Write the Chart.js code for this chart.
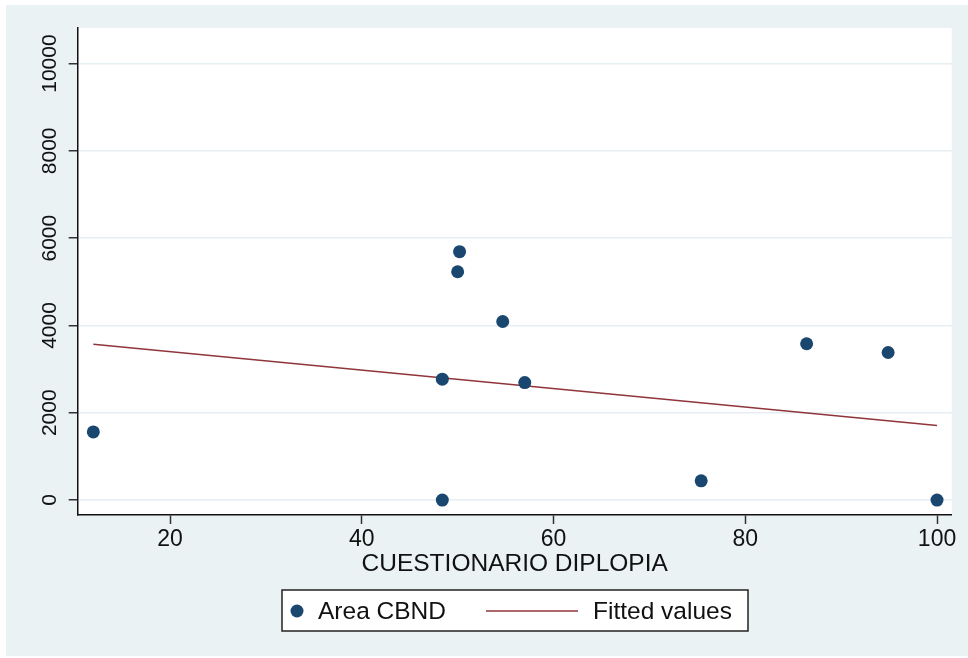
<!DOCTYPE html>
<html>
<head>
<meta charset="utf-8">
<script src="https://cdn.jsdelivr.net/npm/chart.js@4/dist/chart.umd.min.js"></script>
<style>
  body { margin: 0; background: #ffffff; }
  #wrap { width: 968px; height: 658px; }
</style>
</head>
<body>
<div id="wrap"><canvas id="myChart" width="968" height="658"></canvas></div>
<script>
// values
const diplopiaScores = [12, 48.4, 48.4, 50, 50.2, 54.7, 57, 75.4, 86.4, 94.9, 100];
const areaCBND = [1560, 0, 2770, 5230, 5690, 4090, 2690, 440, 3580, 3380, 0];
const fittedX = [12, 100];
const fittedY = [3570, 1706];
const xTicks = [20, 40, 60, 80, 100];
const yTicks = [0, 2000, 4000, 6000, 8000, 10000];

const navy = '#1a476f';
const maroon = '#90353b';
const panelBg = '#eaf2f3';
const fontFamily = '"Liberation Sans", Arial, Helvetica, sans-serif';

let scatterPoints = [];
for (let i = 0; i < diplopiaScores.length; i++) {
    scatterPoints.push({x: diplopiaScores[i], y: areaCBND[i]});
}
let fittedPoints = [];
for (let i = 0; i < fittedX.length; i++) {
    fittedPoints.push({x: fittedX[i], y: fittedY[i]});
}

// stata-like panels: bluish graph region, white plot region
const backgroundPlugin = {
    id: 'backgroundPlugin',
    beforeDraw(chart) {
        const c = chart.ctx;
        const area = chart.chartArea;
        c.save();
        c.fillStyle = '#ffffff';
        c.fillRect(0, 0, chart.width, chart.height);
        c.fillStyle = panelBg;
        c.fillRect(6, 5, chart.width - 6, 651);
        c.fillStyle = '#ffffff';
        c.fillRect(area.left, area.top, area.right - area.left, area.bottom - area.top);
        c.restore();
    }
};

// boxed legend under the axis title
const boxLegendPlugin = {
    id: 'boxLegendPlugin',
    afterDraw(chart) {
        const c = chart.ctx;
        const sets = chart.data.datasets;
        const midY = 611;
        c.save();
        c.fillStyle = '#ffffff';
        c.fillRect(282, 590, 466, 41);
        c.strokeStyle = '#222222';
        c.lineWidth = 1.5;
        c.strokeRect(282, 590, 466, 41);

        c.fillStyle = sets[0].backgroundColor;
        c.beginPath();
        c.arc(297, midY, 6.5, 0, Math.PI * 2);
        c.fill();

        c.strokeStyle = sets[1].borderColor;
        c.lineWidth = 1.6;
        c.beginPath();
        c.moveTo(486, midY);
        c.lineTo(578, midY);
        c.stroke();

        c.fillStyle = '#111111';
        c.font = '24.5px ' + fontFamily;
        c.textBaseline = 'middle';
        c.textAlign = 'left';
        c.fillText(sets[0].label, 318, midY + 1);
        c.fillText(sets[1].label, 593, midY + 1);
        c.restore();
    }
};

const ctx = document.getElementById('myChart').getContext('2d');

const myChart = new Chart(ctx, {
    type: 'scatter',
    data: {
        datasets: [{
            label: 'Area CBND',
            data: scatterPoints,
            backgroundColor: navy,
            borderWidth: 0,
            pointRadius: 6.5,
            pointHoverRadius: 6.5
        }, {
            label: 'Fitted values',
            data: fittedPoints,
            showLine: true,
            borderColor: maroon,
            backgroundColor: maroon,
            borderWidth: 1.6,
            pointRadius: 0,
            pointHoverRadius: 0
        }]
    },
    options: {
        responsive: false,
        animation: false,
        layout: {
            padding: {left: 6, top: 28, right: 16.3, bottom: 78}
        },
        plugins: {
            legend: {display: false},
            tooltip: {enabled: false}
        },
        scales: {
            x: {
                type: 'linear',
                min: 10.37,
                max: 101.53,
                afterBuildTicks: (scale) => {
                    scale.ticks = xTicks.map(v => ({value: v}));
                },
                afterFit: (scale) => {
                    scale.height = 65;
                },
                border: {display: true, color: '#111111', width: 1.5},
                grid: {
                    drawOnChartArea: false,
                    drawTicks: true,
                    tickLength: 9,
                    tickColor: '#333333',
                    tickWidth: 1.5
                },
                ticks: {
                    color: '#111111',
                    padding: 2,
                    maxRotation: 0,
                    callback: (value) => String(value),
                    font: {family: fontFamily, size: 23}
                },
                title: {
                    display: true,
                    text: 'CUESTIONARIO DIPLOPIA',
                    color: '#111111',
                    padding: {top: 0, bottom: 1},
                    font: {family: fontFamily, size: 24.5}
                }
            },
            y: {
                type: 'linear',
                min: -343,
                max: 10815,
                afterBuildTicks: (scale) => {
                    scale.ticks = yTicks.map(v => ({value: v}));
                },
                afterFit: (scale) => {
                    scale.width = 71.7;
                },
                border: {display: true, color: '#111111', width: 1.5},
                grid: {
                    color: '#e6eef1',
                    lineWidth: 1.5,
                    drawTicks: true,
                    tickLength: 9,
                    tickColor: '#333333',
                    tickWidth: 1.5
                },
                ticks: {
                    color: '#111111',
                    minRotation: 90,
                    maxRotation: 90,
                    crossAlign: 'center',
                    padding: -10.5,
                    callback: (value) => String(value),
                    font: {family: fontFamily, size: 21}
                }
            }
        }
    },
    plugins: [backgroundPlugin, boxLegendPlugin]
});
</script>
</body>
</html>
